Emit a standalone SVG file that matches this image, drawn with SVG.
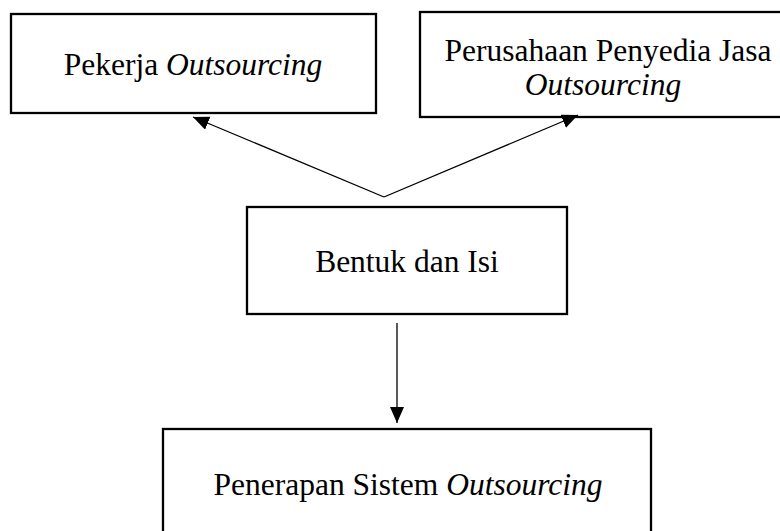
<svg xmlns="http://www.w3.org/2000/svg" width="780" height="531" viewBox="0 0 780 531">
<defs>
<style>
.box{fill:#fff;stroke:#000;stroke-width:2.3}
.t{font-family:"Liberation Serif","Times New Roman",serif;font-size:31.5px;fill:#000;text-anchor:middle}
.i{font-style:italic}
.c{stroke:#000;stroke-width:1.3;fill:none;marker-end:url(#ah)}
</style>
<marker id="ah" markerUnits="userSpaceOnUse" markerWidth="18" markerHeight="16" refX="16" refY="7" orient="auto">
<path d="M0,0 L16,7 L0,14 z" fill="#000"/>
</marker>
</defs>
<rect width="780" height="531" fill="#fff"/>
<g id="node-pekerja">
<rect class="box" x="11" y="14" width="365" height="99"/>
<text class="t" x="193" y="75">Pekerja <tspan class="i">Outsourcing</tspan></text>
</g>
<g id="node-perusahaan">
<rect class="box" x="420" y="12" width="365" height="105"/>
<text class="t" x="608" y="61">Perusahaan Penyedia Jasa</text>
<text class="t i" x="603" y="95">Outsourcing</text>
</g>
<g id="node-bentuk">
<rect class="box" x="247" y="207" width="320" height="107"/>
<text class="t" x="407" y="272">Bentuk dan Isi</text>
</g>
<g id="node-penerapan">
<rect class="box" x="163" y="429" width="488" height="130"/>
<text class="t" x="408" y="495">Penerapan Sistem <tspan class="i">Outsourcing</tspan></text>
</g>
<g id="connectors">
<line class="c" x1="384" y1="197" x2="193" y2="117"/>
<line class="c" x1="384" y1="197" x2="578" y2="115"/>
<line class="c" x1="397" y1="323" x2="397" y2="423"/>
</g>
</svg>
